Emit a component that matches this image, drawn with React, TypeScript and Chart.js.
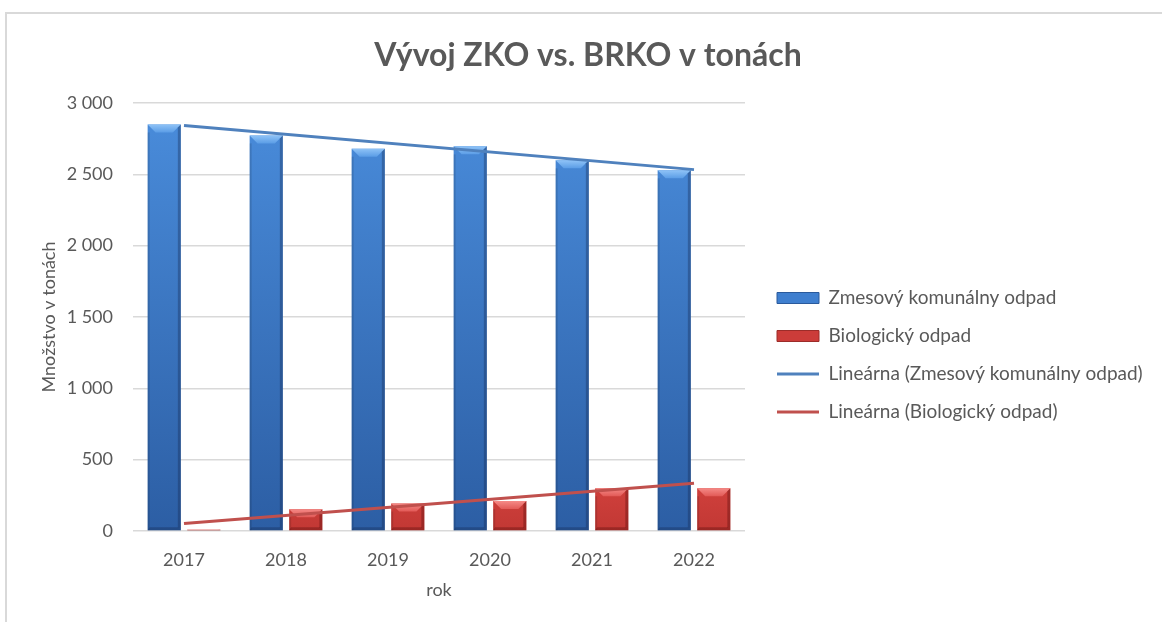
import React, { useEffect, useRef } from 'react';
import { Chart, registerables } from 'chart.js';

Chart.register(...registerables);

const chartTitle = 'Vývoj ZKO vs. BRKO v tonách';
const yAxisTitle = 'Množstvo v tonách';
const xAxisTitle = 'rok';
const years = ['2017', '2018', '2019', '2020', '2021', '2022'];
const zkoValues = [2850, 2773, 2680, 2696, 2598, 2528];
const bioValues = [8, 153, 193, 210, 300, 300];
const zkoTrendYears = ['2017', '2022'];
const zkoTrendValues = [2843, 2533];
const bioTrendYears = ['2017', '2022'];
const bioTrendValues = [52, 335];
const yTickLabels = ['0', '500', '1 000', '1 500', '2 000', '2 500', '3 000'];
const seriesNames = [
  'Zmesový komunálny odpad',
  'Biologický odpad',
  'Lineárna (Zmesový komunálny odpad)',
  'Lineárna (Biologický odpad)',
];

const TEXT = '#595959';
const FONT = 'Lato';
const PLOT_RIGHT = 745;
const LEGEND_GAP = 13;
const LEGEND_SHIFT_Y = 44;

const palettes = [
  { top: '#4a8ddc', bottom: '#2c5ea4', light: '#8fc3f7', lightEnd: '#5b9de6', edge: 'rgba(20,40,80,0.35)' },
  { top: '#d4433f', bottom: '#c23834', light: '#f58a87', lightEnd: '#e25a57', edge: 'rgba(80,10,10,0.35)' },
];

const bevelPlugin = {
  id: 'bevel',
  afterDatasetDraw(chart: any, args: any) {
    const meta = args.meta;
    if (meta.type !== 'bar') return;
    const pal = palettes[args.index];
    const ctx = chart.ctx;
    ctx.save();
    meta.data.forEach((el: any) => {
      const { x, y, base, width } = el.getProps(['x', 'y', 'base', 'width'], true);
      const x0 = x - width / 2;
      const x1 = x + width / 2;
      const h = base - y;
      if (h <= 0) return;
      const b = Math.min(8, h / 2, width / 4);
      const g = ctx.createLinearGradient(0, y, 0, y + b);
      g.addColorStop(0, pal.light);
      g.addColorStop(1, pal.lightEnd);
      ctx.fillStyle = g;
      ctx.beginPath();
      ctx.moveTo(x0, y);
      ctx.lineTo(x1, y);
      ctx.lineTo(x1 - b, y + b);
      ctx.lineTo(x0 + b, y + b);
      ctx.closePath();
      ctx.fill();
      ctx.fillStyle = pal.edge;
      ctx.beginPath();
      ctx.moveTo(x1, y);
      ctx.lineTo(x1, base);
      ctx.lineTo(x1 - 3, base - Math.min(3, h / 2));
      ctx.lineTo(x1 - 3, y + Math.min(3, h / 2));
      ctx.closePath();
      ctx.fill();
      ctx.fillStyle = 'rgba(0,0,0,0.12)';
      ctx.fillRect(x0, y + b, 2, h - b);
      ctx.fillStyle = pal.edge;
      ctx.beginPath();
      ctx.moveTo(x0, base);
      ctx.lineTo(x1, base);
      ctx.lineTo(x1 - 3, base - Math.min(3, h / 2));
      ctx.lineTo(x0 + 2, base - Math.min(3, h / 2));
      ctx.closePath();
      ctx.fill();
    });
    ctx.restore();
  },
};

const legendShiftPlugin = {
  id: 'legendShift',
  afterLayout(chart: any) {
    const lg = chart.legend;
    if (!lg) return;
    const dx = chart.chartArea.right + LEGEND_GAP - lg.left;
    lg.left += dx;
    lg.right += dx;
    lg.top += LEGEND_SHIFT_Y;
    lg.bottom += LEGEND_SHIFT_Y;
  },
};

export default function App() {
  const canvasRef = useRef<HTMLCanvasElement | null>(null);

  useEffect(() => {
    const canvas = canvasRef.current;
    if (!canvas) return;
    const blueFill = (c: any) => {
      const area = c.chart.chartArea;
      if (!area) return palettes[0].top;
      const g = c.chart.ctx.createLinearGradient(0, area.top, 0, area.bottom);
      g.addColorStop(0, palettes[0].top);
      g.addColorStop(1, palettes[0].bottom);
      return g;
    };
    const redFill = (c: any) => {
      const area = c.chart.chartArea;
      if (!area) return palettes[1].top;
      const g = c.chart.ctx.createLinearGradient(0, area.bottom - 60, 0, area.bottom);
      g.addColorStop(0, palettes[1].top);
      g.addColorStop(1, palettes[1].bottom);
      return g;
    };
    const legendFill = ['#3f7fcf', '#cc3c39', '#4f81bd', '#c0504d'];
    const legendStroke = ['#2a5a9c', '#9c2c29', '#4f81bd', '#c0504d'];

    const chart = new Chart(canvas, {
      type: 'bar',
      data: {
        labels: years,
        datasets: [
          {
            type: 'bar',
            label: seriesNames[0],
            data: zkoValues,
            backgroundColor: blueFill,
            borderWidth: 0,
            order: 2,
            categoryPercentage: 0.775,
            barPercentage: 0.84,
          },
          {
            type: 'bar',
            label: seriesNames[1],
            data: bioValues,
            backgroundColor: redFill,
            borderWidth: 0,
            order: 2,
            categoryPercentage: 0.775,
            barPercentage: 0.84,
          },
          {
            type: 'line',
            label: seriesNames[2],
            data: zkoTrendYears.map((yr, i) => ({ x: yr, y: zkoTrendValues[i] })),
            borderColor: '#4f81bd',
            backgroundColor: '#4f81bd',
            borderWidth: 3,
            pointRadius: 0,
            order: 0,
          },
          {
            type: 'line',
            label: seriesNames[3],
            data: bioTrendYears.map((yr, i) => ({ x: yr, y: bioTrendValues[i] })),
            borderColor: '#c0504d',
            backgroundColor: '#c0504d',
            borderWidth: 3,
            pointRadius: 0,
            order: 0,
          },
        ] as any,
      },
      options: {
        animation: false,
        responsive: false,
        maintainAspectRatio: false,
        layout: { padding: { left: 14, right: 0, top: 0, bottom: 0 } },
        plugins: {
          tooltip: { enabled: false },
          title: {
            display: true,
            text: chartTitle,
            color: TEXT,
            font: { family: FONT, size: 32, weight: 'bold' },
            padding: { top: 36, bottom: 28.6 },
          },
          legend: {
            display: true,
            position: 'right',
            align: 'center',
            weight: -10,
            maxWidth: 700,
            labels: {
              color: TEXT,
              font: { family: FONT, size: 19 },
              usePointStyle: true,
              pointStyleWidth: 42,
              boxHeight: 11,
              padding: 19,
              generateLabels: (ch: any) =>
                ch.data.datasets.map((ds: any, i: number) => ({
                  text: ds.label,
                  fillStyle: legendFill[i],
                  strokeStyle: legendStroke[i],
                  lineWidth: i < 2 ? 1 : 3,
                  pointStyle: i < 2 ? 'rect' : 'line',
                  hidden: !ch.isDatasetVisible(i),
                  datasetIndex: i,
                  fontColor: TEXT,
                })),
            },
          },
        },
        scales: {
          x: {
            type: 'category',
            grid: { display: false, drawTicks: false },
            border: { display: false },
            ticks: { color: TEXT, font: { family: FONT, size: 18 }, padding: 18 },
            title: {
              display: true,
              text: xAxisTitle,
              color: TEXT,
              font: { family: FONT, size: 18 },
              padding: { top: 0, bottom: 21 },
            },
            afterFit: (s: any) => {
              s.height = 91;
            },
          },
          y: {
            min: 0,
            max: 3000,
            grid: { color: '#d9d9d9', lineWidth: 1.5, drawTicks: false },
            border: { display: false },
            ticks: {
              stepSize: 500,
              color: TEXT,
              font: { family: FONT, size: 18 },
              padding: 20,
              callback: (_v: any, i: number) => yTickLabels[i],
            },
            title: {
              display: true,
              text: yAxisTitle,
              color: TEXT,
              font: { family: FONT, size: 18 },
              padding: { top: 24, bottom: 4 },
            },
            afterFit: (s: any) => {
              s.width = 119;
            },
          },
          spacer: {
            type: 'linear',
            position: 'right',
            weight: 0,
            min: 0,
            max: 1,
            grid: { display: false, drawTicks: false },
            border: { display: false },
            ticks: { display: false },
            afterFit: (s: any) => {
              const lw = s.chart.legend ? s.chart.legend.width : 0;
              s.width = Math.max(0, s.chart.width - PLOT_RIGHT - lw);
            },
          },
        },
      } as any,
      plugins: [bevelPlugin, legendShiftPlugin],
    });
    return () => chart.destroy();
  }, []);

  return (
    <div style={{ position: 'fixed', left: 0, top: 0, width: 1162, height: 622, background: '#ffffff', overflow: 'hidden' }}>
      <div
        style={{
          position: 'absolute',
          left: 5,
          top: 12,
          width: 1200,
          height: 700,
          borderLeft: '2px solid #d9d9d9',
          borderTop: '2px solid #d9d9d9',
          boxSizing: 'border-box',
        }}
      />
      <canvas ref={canvasRef} width={1162} height={622} style={{ position: 'absolute', left: 0, top: 0 }} />
    </div>
  );
}
